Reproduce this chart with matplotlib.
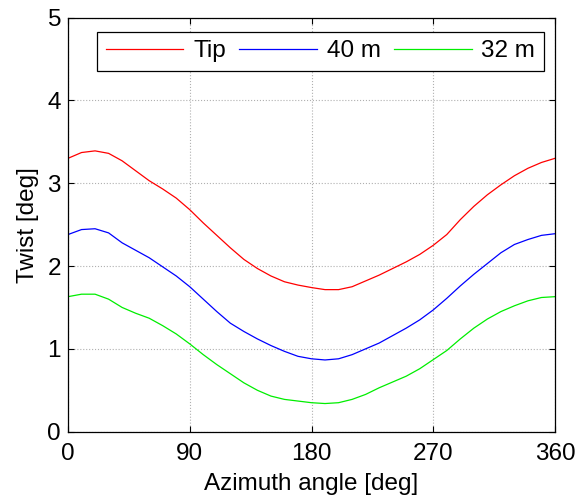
import matplotlib
matplotlib.use("Agg")
import matplotlib.pyplot as plt

plt.rcParams['font.family'] = ['Liberation Sans', 'DejaVu Sans']

azimuth = [0, 10, 20, 30, 40, 50, 60, 70, 80, 90, 100, 110, 120, 130, 140,
           150, 160, 170, 180, 190, 200, 210, 220, 230, 240, 250, 260, 270,
           280, 290, 300, 310, 320, 330, 340, 350, 360]
twist_tip = [3.30, 3.37, 3.39, 3.36, 3.27, 3.15, 3.03, 2.93, 2.82, 2.68,
             2.52, 2.37, 2.22, 2.08, 1.97, 1.88, 1.81, 1.77, 1.74, 1.715,
             1.715, 1.75, 1.82, 1.89, 1.97, 2.05, 2.14, 2.25, 2.38, 2.56,
             2.72, 2.86, 2.98, 3.09, 3.18, 3.25, 3.30]
twist_40m = [2.38, 2.44, 2.45, 2.40, 2.28, 2.19, 2.10, 1.99, 1.88, 1.75,
             1.60, 1.45, 1.31, 1.21, 1.12, 1.04, 0.97, 0.91, 0.88, 0.866,
             0.88, 0.93, 1.00, 1.07, 1.16, 1.25, 1.35, 1.47, 1.61, 1.76,
             1.90, 2.03, 2.16, 2.26, 2.32, 2.37, 2.39]
twist_32m = [1.63, 1.66, 1.66, 1.60, 1.50, 1.43, 1.37, 1.28, 1.18, 1.06,
             0.93, 0.81, 0.70, 0.59, 0.50, 0.43, 0.39, 0.37, 0.35, 0.34,
             0.35, 0.39, 0.45, 0.53, 0.60, 0.67, 0.76, 0.87, 0.98, 1.12,
             1.25, 1.36, 1.45, 1.52, 1.58, 1.62, 1.63]
labels = ['Tip', '40 m', '32 m']
colors = ['#ff0000', '#0000ff', '#00ee00']
xticks = [0, 90, 180, 270, 360]
yticks = [0, 1, 2, 3, 4, 5]

FS = 17.5

fig = plt.figure(figsize=(5.76, 4.97), dpi=100)
ax = fig.add_axes([68/576, 1-431.7/497, (555-68)/576, (431.7-17.5)/497])

for y, lab, c in zip([twist_tip, twist_40m, twist_32m], labels, colors):
    ax.plot(azimuth, y, color=c, lw=0.9, label=lab)

ax.set_xlim(0, 360)
ax.set_ylim(0, 5)
ax.set_xticks(xticks)
ax.set_yticks(yticks)
ax.grid(True, linestyle=':', color='#b0b0b0', linewidth=0.8)
ax.tick_params(direction='in', top=True, right=True, length=4, width=0.8,
               labelsize=FS, pad=5)
ax.tick_params(axis='x', pad=8)
for s in ax.spines.values():
    s.set_linewidth(0.9)
    s.set_color('black')

ax.set_xlabel('Azimuth angle [deg]', fontsize=FS, labelpad=6)
ax.set_ylabel('Twist [deg]', fontsize=FS, labelpad=6)

leg = ax.legend(ncol=3, loc='upper left', bbox_to_anchor=(97/576, 1-31.7/497),
                bbox_transform=fig.transFigure, borderaxespad=0, fontsize=FS,
                frameon=True, fancybox=False, framealpha=1, edgecolor='black',
                handlelength=3.2, handletextpad=0.4, columnspacing=0.55,
                borderpad=0.35)
leg.get_frame().set_linewidth(0.9)

fig.savefig('out.png', dpi=100)
